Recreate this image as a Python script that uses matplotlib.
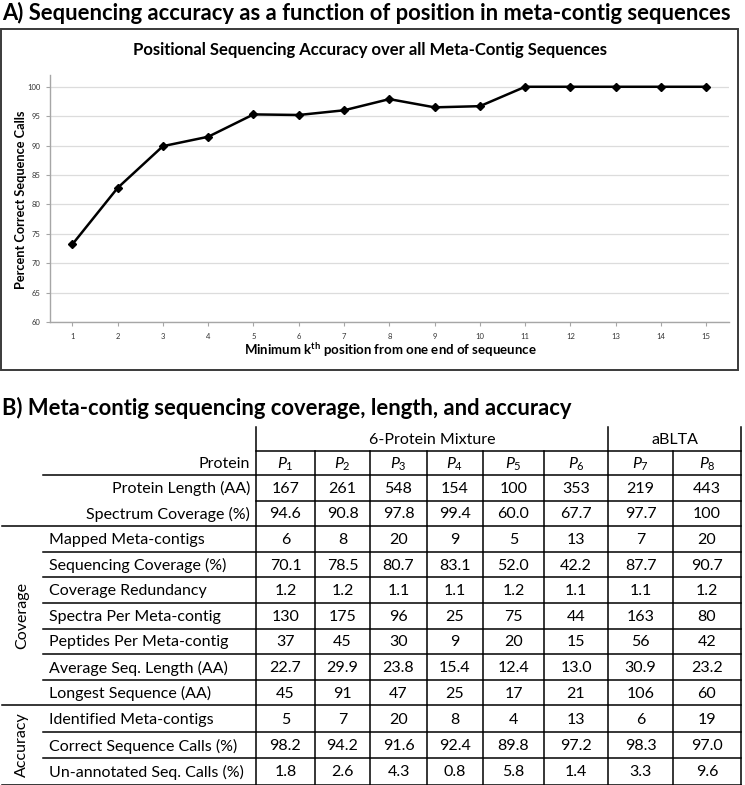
import matplotlib
matplotlib.use("Agg")
import matplotlib.pyplot as plt
from matplotlib.lines import Line2D
from matplotlib.patches import Rectangle

plt.rcParams['font.family'] = ['Lato', 'DejaVu Sans']
plt.rcParams['mathtext.fontset'] = 'custom'
plt.rcParams['mathtext.rm'] = 'Lato'
plt.rcParams['mathtext.it'] = 'Lato:italic'
plt.rcParams['mathtext.bf'] = 'Lato:bold'

# ---------------- data: panel A ----------------
positions = list(range(1, 16))
accuracy = [73.2, 82.8, 89.9, 91.5, 95.3, 95.2, 96.0, 97.9, 96.5, 96.7,
            100, 100, 100, 100, 100]
y_ticks = [60, 65, 70, 75, 80, 85, 90, 95, 100]

# ---------------- data: panel B ----------------
group_names = ["6-Protein Mixture", "aBLTA"]
group_sizes = [6, 2]
protein_ids = ["1", "2", "3", "4", "5", "6", "7", "8"]

top_labels = ["Protein Length (AA)", "Spectrum Coverage (%)"]
protein_length = ["167", "261", "548", "154", "100", "353", "219", "443"]
spectrum_coverage = ["94.6", "90.8", "97.8", "99.4", "60.0", "67.7", "97.7", "100"]

coverage_labels = ["Mapped Meta-contigs", "Sequencing Coverage (%)", "Coverage Redundancy",
                   "Spectra Per Meta-contig", "Peptides Per Meta-contig",
                   "Average Seq. Length (AA)", "Longest Sequence (AA)"]
mapped_meta_contigs = ["6", "8", "20", "9", "5", "13", "7", "20"]
sequencing_coverage = ["70.1", "78.5", "80.7", "83.1", "52.0", "42.2", "87.7", "90.7"]
coverage_redundancy = ["1.2", "1.2", "1.1", "1.1", "1.2", "1.1", "1.1", "1.2"]
spectra_per_contig = ["130", "175", "96", "25", "75", "44", "163", "80"]
peptides_per_contig = ["37", "45", "30", "9", "20", "15", "56", "42"]
average_seq_length = ["22.7", "29.9", "23.8", "15.4", "12.4", "13.0", "30.9", "23.2"]
longest_sequence = ["45", "91", "47", "25", "17", "21", "106", "60"]

accuracy_labels = ["Identified Meta-contigs", "Correct Sequence Calls (%)",
                   "Un-annotated Seq. Calls (%)"]
identified_meta_contigs = ["5", "7", "20", "8", "4", "13", "6", "19"]
correct_calls = ["98.2", "94.2", "91.6", "92.4", "89.8", "97.2", "98.3", "97.0"]
unannotated_calls = ["1.8", "2.6", "4.3", "0.8", "5.8", "1.4", "3.3", "9.6"]

top_rows = [protein_length, spectrum_coverage]
coverage_rows = [mapped_meta_contigs, sequencing_coverage, coverage_redundancy,
                 spectra_per_contig, peptides_per_contig, average_seq_length,
                 longest_sequence]
accuracy_rows = [identified_meta_contigs, correct_calls, unannotated_calls]

# ---------------- figure ----------------
W, H = 745, 785
fig = plt.figure(figsize=(W / 100, H / 100), dpi=100)
ov = fig.add_axes([0, 0, 1, 1])
ov.set_xlim(0, W)
ov.set_ylim(H, 0)
ov.axis('off')

TITLE_FS = 15.8
ov.text(2, 13, "A) Sequencing accuracy as a function of position in meta-contig sequences",
        fontsize=TITLE_FS, fontweight='bold', ha='left', va='center')
ov.add_patch(Rectangle((1, 29), 737, 341, fill=False, edgecolor='#3a3a3a', lw=1.4))
ov.text(370, 50, "Positional Sequencing Accuracy over all Meta-Contig Sequences",
        fontsize=12.0, fontweight='bold', ha='center', va='center')

ax_l, ax_r, ax_t, ax_b = 49.7, 729, 75, 322
ax = fig.add_axes([ax_l / W, 1 - ax_b / H, (ax_r - ax_l) / W, (ax_b - ax_t) / H])
ax.plot(positions, accuracy, color='black', lw=1.8, marker='D', ms=3.8, zorder=3)
ax.set_xlim(0.5, 15.5)
ax.set_ylim(60, 102)
ax.set_yticks(y_ticks)
ax.set_xticks(positions)
ax.grid(axis='y', color='#dcdcdc', lw=0.9)
ax.set_axisbelow(True)
for s in ['top', 'right']:
    ax.spines[s].set_visible(False)
for s in ['left', 'bottom']:
    ax.spines[s].set_color('#a6a6a6')
    ax.spines[s].set_linewidth(1.0)
ax.tick_params(axis='both', labelsize=5.5, colors='#a6a6a6', labelcolor='#333333',
               length=3, width=0.8)
ax.tick_params(axis='x', pad=5)

ov.text(21, 200, "Percent Correct Sequence Calls", rotation=90, fontsize=9.2,
        fontweight='bold', ha='center', va='center')
ov.text(390, 350, r"Minimum k$^{\mathbf{th}}$ position from one end of sequeunce",
        fontsize=9.5, fontweight='bold', ha='center', va='center')

# ---------------- panel B ----------------
ov.text(2, 408, "B) Meta-contig sequencing coverage, length, and accuracy",
        fontsize=TITLE_FS, fontweight='bold', ha='left', va='center')

FS = 11.5
LW = 1.1
col_edges = [256, 315, 370, 427, 483, 544, 608, 673, 741]
t_top, t_hdr, t_prot = 427, 451, 475
pitch_main = 25.6
pitch_acc = 26.4
n_main = len(top_rows) + len(coverage_rows)
row_edges = [t_prot + i * pitch_main for i in range(n_main + 1)]
row_edges += [row_edges[-1] + (k + 1) * pitch_acc for k in range(len(accuracy_rows))]
t_bot = row_edges[-1]
grp_x0 = 43
full_x0 = 2
x_right = col_edges[-1]

def hline(y, x0, x1):
    ov.add_line(Line2D([x0, x1], [y, y], color='black', lw=LW))

def vline(x, y0, y1):
    ov.add_line(Line2D([x, x], [y0, y1], color='black', lw=LW))

# vertical lines
group_bounds = [0]
for g in group_sizes:
    group_bounds.append(group_bounds[-1] + g)
for i, x in enumerate(col_edges):
    if i in group_bounds:
        vline(x, t_top, t_bot)
    else:
        vline(x, t_hdr, t_bot)

# horizontal lines
hline(t_hdr, col_edges[0], x_right)
hline(t_prot, grp_x0, x_right)
sec1 = len(top_rows)
sec2 = sec1 + len(coverage_rows)
for i, y in enumerate(row_edges[1:], start=1):
    if i in (sec1, sec2, len(row_edges) - 1):
        hline(y, full_x0, x_right)
    elif i < sec1:
        hline(y, col_edges[0], x_right)
    else:
        hline(y, grp_x0, x_right)

# header texts
for gi, name in enumerate(group_names):
    xa = col_edges[group_bounds[gi]]
    xb = col_edges[group_bounds[gi + 1]]
    ov.text((xa + xb) / 2, (t_top + t_hdr) / 2 + 1, name, fontsize=FS, ha='center', va='center')
ov.text(col_edges[0] - 6, (t_hdr + t_prot) / 2 + 1, "Protein", fontsize=FS, ha='right', va='center')
col_centers = [(col_edges[i] + col_edges[i + 1]) / 2 for i in range(len(protein_ids))]
for xc, pid in zip(col_centers, protein_ids):
    ov.text(xc, (t_hdr + t_prot) / 2 + 1, r"$\mathit{P}_{\mathit{%s}}$" % pid,
            fontsize=FS, ha='center', va='center')

all_labels = top_labels + coverage_labels + accuracy_labels
all_rows = top_rows + coverage_rows + accuracy_rows
for r, (lab, vals) in enumerate(zip(all_labels, all_rows)):
    yc = (row_edges[r] + row_edges[r + 1]) / 2 + 1
    if r < sec1:
        ov.text(col_edges[0] - 6, yc, lab, fontsize=FS, ha='right', va='center')
    else:
        ov.text(grp_x0 + 6, yc, lab, fontsize=FS, ha='left', va='center')
    for xc, v in zip(col_centers, vals):
        ov.text(xc, yc, v, fontsize=FS, ha='center', va='center')

ov.text(22, (row_edges[sec1] + row_edges[sec2]) / 2, "Coverage", rotation=90,
        fontsize=FS, ha='center', va='center')
ov.text(22, (row_edges[sec2] + t_bot) / 2, "Accuracy", rotation=90,
        fontsize=FS, ha='center', va='center')

fig.savefig("out.png", dpi=100)
